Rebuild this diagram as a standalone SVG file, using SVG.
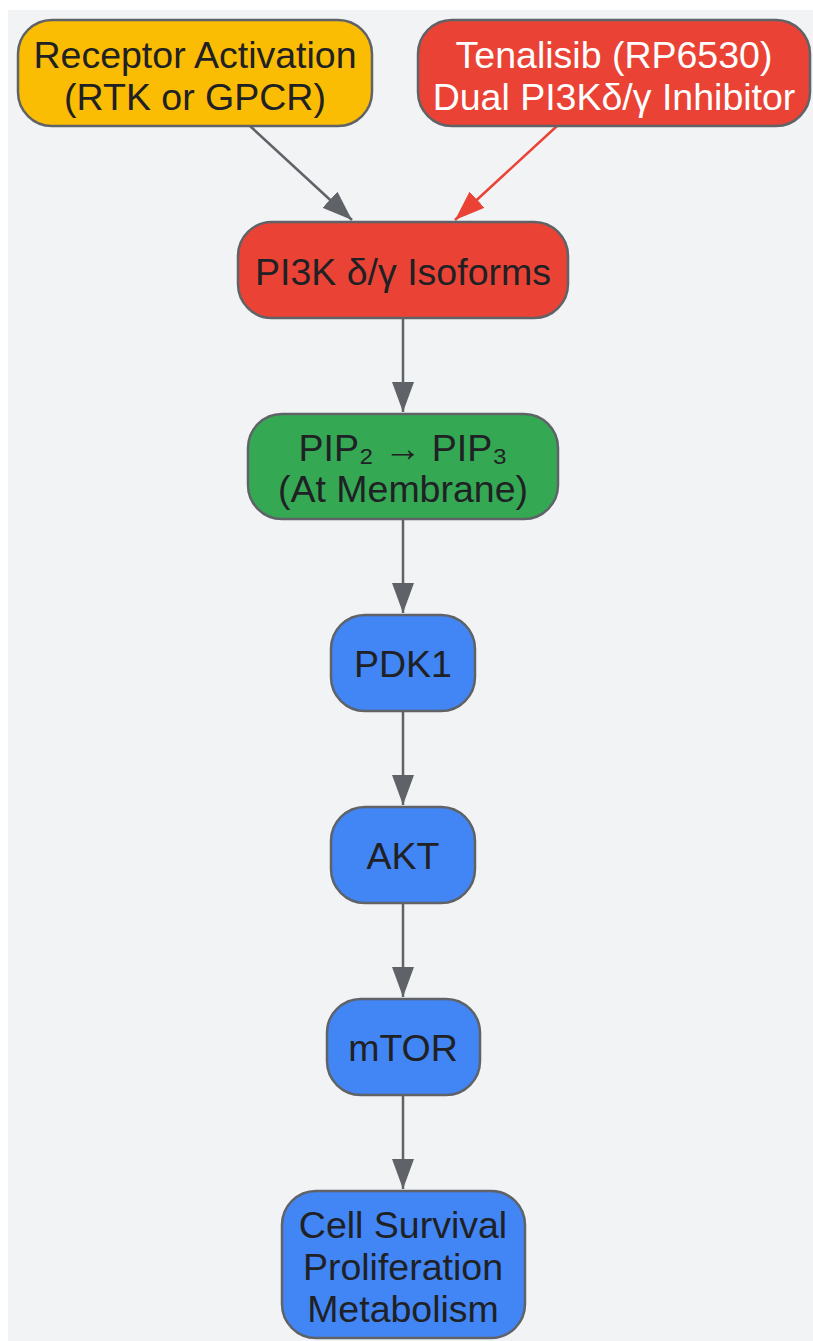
<svg xmlns="http://www.w3.org/2000/svg" width="813" height="1341" viewBox="0 0 813 1341">
<defs>
<style>
.n{stroke:#5f6368;stroke-width:2.5}
.t{font-family:"Liberation Sans",Arial,sans-serif;font-size:37.5px;fill:#202124;text-anchor:middle}
.w{fill:#ffffff}
.e{stroke:#5f6368;stroke-width:2.5;fill:none}
.r{stroke:#ea4335}
</style>
<marker id="ag" viewBox="0 0 30 22" refX="30" refY="11" markerWidth="30" markerHeight="22" markerUnits="userSpaceOnUse" orient="auto"><path d="M0,0 L30,11 L0,22 Z" fill="#5f6368"/></marker>
<marker id="ar" viewBox="0 0 30 22" refX="30" refY="11" markerWidth="30" markerHeight="22" markerUnits="userSpaceOnUse" orient="auto"><path d="M0,0 L30,11 L0,22 Z" fill="#ea4335"/></marker>
</defs>
<rect x="0" y="0" width="813" height="1341" fill="#ffffff"/>
<rect x="8" y="10" width="805" height="1331" fill="#f1f3f5"/>
<g id="connectors">
<path class="e" d="M250,126 L352,220" marker-end="url(#ag)"/>
<path class="e r" d="M557,126 L455,220" marker-end="url(#ar)"/>
<path class="e" d="M403,318 L403,412" marker-end="url(#ag)"/>
<path class="e" d="M403,519 L403,613" marker-end="url(#ag)"/>
<path class="e" d="M403,711 L403,805" marker-end="url(#ag)"/>
<path class="e" d="M403,903 L403,997" marker-end="url(#ag)"/>
<path class="e" d="M403,1095 L403,1189" marker-end="url(#ag)"/>
</g>
<g id="receptor">
<rect class="n" x="18" y="20" width="354" height="106" rx="34" fill="#fbbc04"/>
<text class="t" x="195" y="68">Receptor Activation</text>
<text class="t" x="195" y="110">(RTK or GPCR)</text>
</g>
<g id="tenalisib">
<rect class="n" x="418" y="20" width="392" height="106" rx="34" fill="#ea4335"/>
<text class="t w" x="614" y="68">Tenalisib (RP6530)</text>
<text class="t w" x="614" y="110">Dual PI3Kδ/γ Inhibitor</text>
</g>
<g id="pi3k">
<rect class="n" x="238" y="222" width="330" height="96" rx="34" fill="#ea4335"/>
<text class="t" x="403" y="285">PI3K δ/γ Isoforms</text>
</g>
<g id="pip">
<rect class="n" x="248" y="414" width="310" height="105" rx="34" fill="#34a853"/>
<text class="t" x="403" y="461">PIP₂ → PIP₃</text>
<text class="t" x="403" y="502">(At Membrane)</text>
</g>
<g id="pdk1">
<rect class="n" x="331" y="615" width="144" height="96" rx="34" fill="#4285f4"/>
<text class="t" x="403" y="677">PDK1</text>
</g>
<g id="akt">
<rect class="n" x="331" y="807" width="144" height="96" rx="34" fill="#4285f4"/>
<text class="t" x="403" y="869">AKT</text>
</g>
<g id="mtor">
<rect class="n" x="327" y="999" width="153" height="96" rx="34" fill="#4285f4"/>
<text class="t" x="403" y="1061">mTOR</text>
</g>
<g id="cell">
<rect class="n" x="282" y="1191" width="243" height="147" rx="34" fill="#4285f4"/>
<text class="t" x="403" y="1238">Cell Survival</text>
<text class="t" x="403" y="1280">Proliferation</text>
<text class="t" x="403" y="1322">Metabolism</text>
</g>
</svg>
